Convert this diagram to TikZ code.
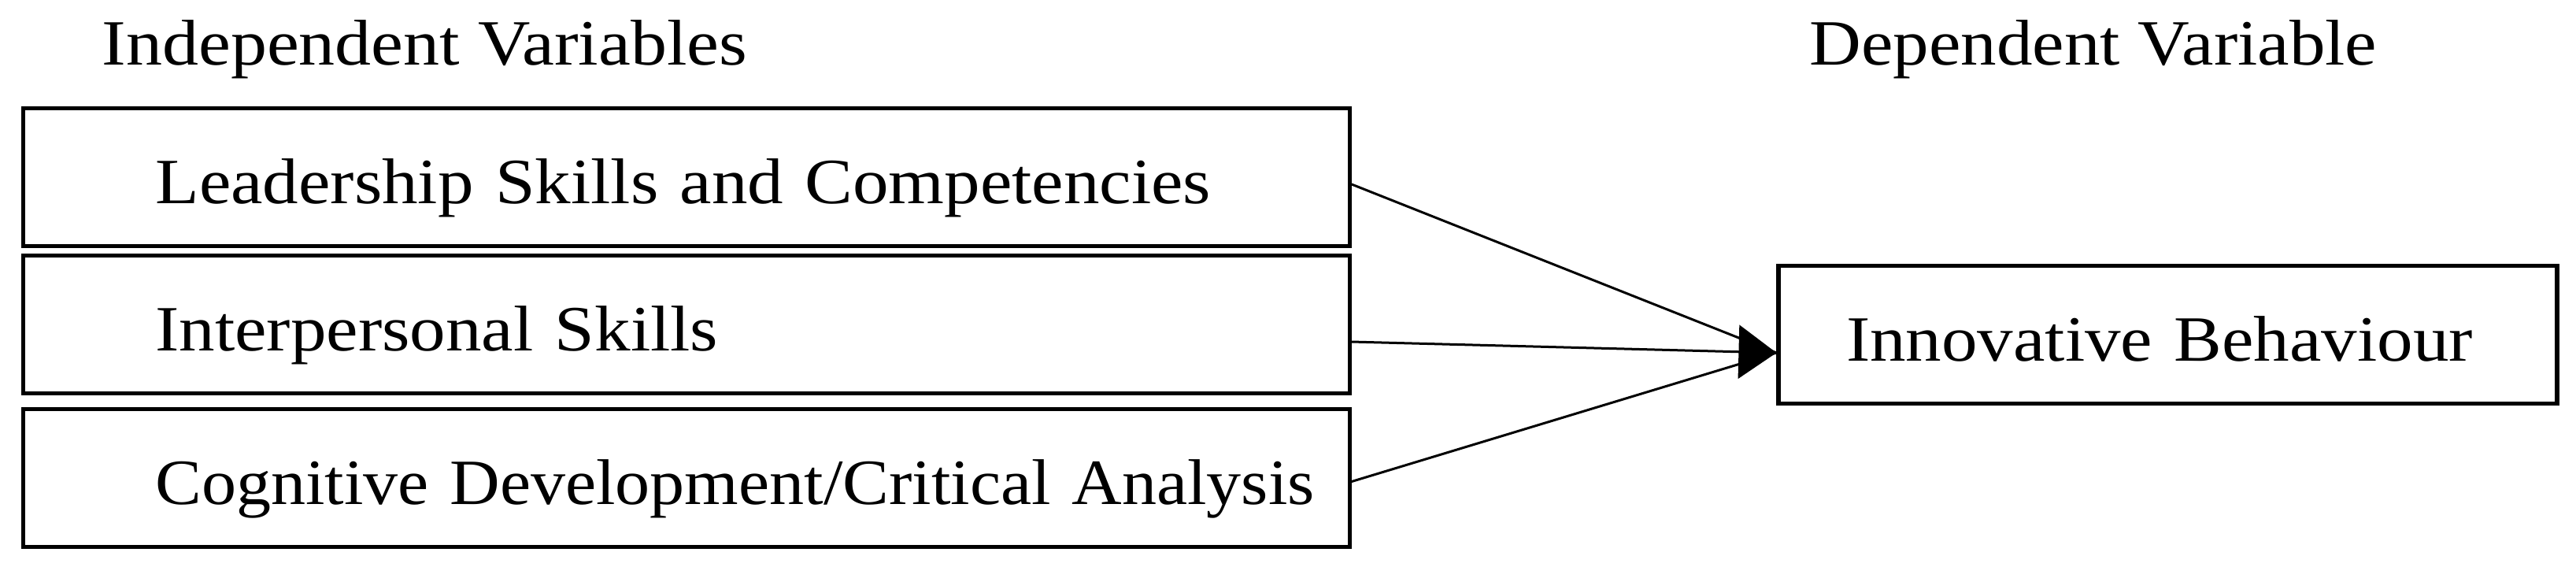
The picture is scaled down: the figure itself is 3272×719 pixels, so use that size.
\documentclass[tikz,border=0pt]{standalone}
\usepackage{fontspec}
\setmainfont{Liberation Serif}[FakeStretch=1.11]
\usetikzlibrary{arrows.meta,calc}
\newcommand{\hsx}[2]{\scalebox{#1}[1]{#2}}
\begin{document}
\begin{tikzpicture}[x=0.25pt,y=-0.25pt,
  txt/.style={font=\fontsize{20.5}{24}\selectfont},
  varbox/.style={txt,draw,line width=1.3pt,minimum height=43.75pt,
    text width=337.3pt,inner xsep=41.9pt,inner ysep=0pt,align=left,
    text height=16.5pt,text depth=0pt},
  dvbox/.style={txt,draw,line width=1.3pt,minimum height=43.75pt,
    text width=204.25pt,inner xsep=21.5pt,inner ysep=0pt,align=left,
    text height=16.5pt,text depth=0pt},
  head/.style={txt,anchor=base west,inner sep=0pt},
  conn/.style={line width=0.75pt}]
\useasboundingbox (0,0) rectangle (3272,719);
\node[head] (h1) at (129,82) {\hsx{1.01}{Independent Variables}};
\node[head] (h2) at (2298,82) {Dependent Variable};
\node[varbox] (iv1) at (872,225) {Leadership Skills and Competencies};
\node[varbox] (iv2) at (872,412) {Interpersonal Skills};
\node[varbox] (iv3) at (872,607) {\hsx{0.968}{Cognitive Development/Critical Analysis}};
\node[dvbox] (dv) at (2753.5,425) {Innovative Behaviour};
\coordinate (tip) at ($(dv.west)+(0,23)$);
\draw[conn] ($(iv1.east)+(0,9)$) -- (tip);
\draw[conn,-{Triangle[length=12pt,width=17pt]}] ($(iv2.east)+(0,22)$) -- (tip);
\draw[conn] ($(iv3.east)+(0,4.5)$) -- (tip);
\end{tikzpicture}
\end{document}
